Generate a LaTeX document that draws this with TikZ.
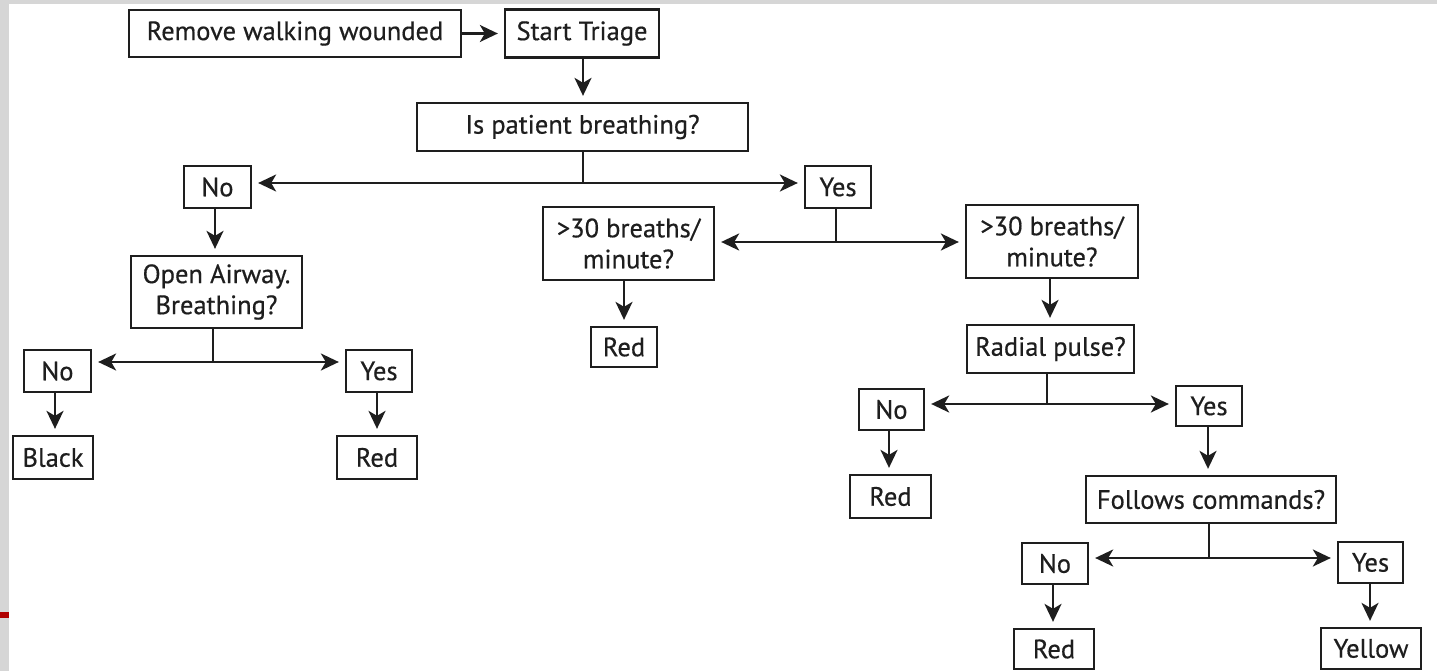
\documentclass[tikz,border=0pt]{standalone}
\usepackage{fontspec}
\setmainfont{PT Sans}
\newfontfamily\boxfont{PT Sans}[FakeBold=0.5]
\usetikzlibrary{arrows.meta}
\definecolor{ink}{HTML}{1E1E1E}
\definecolor{edge}{HTML}{D6D6D6}
\definecolor{slidered}{HTML}{B00000}
\begin{document}
\begin{tikzpicture}[x=1pt,y=-1pt,
  box/.style={draw=ink,line width=2.3pt,inner sep=0pt,align=center,text=ink,
    font=\boxfont\fontsize{26.5}{31}\selectfont},
  arr/.style={draw=ink,line width=2.3pt,shorten >=6pt,-{Stealth[length=18pt,width=17pt,inset=5pt]}},
  ln/.style={draw=ink,line width=2.3pt}]
\fill[edge] (0,0) rectangle (1437,671);
\fill[white] (9,4) rectangle (1437,671);
\fill[slidered] (0,612) rectangle (9,618);
\useasboundingbox (0,0) rectangle (1437,671);
% nodes
\node[box,minimum width=332pt,minimum height=47pt] (rw) at (295,33.5) {Remove walking wounded};
\node[box,minimum width=154pt,minimum height=48pt] (st) at (582,33.5) {Start Triage};
\node[box,minimum width=331pt,minimum height=48pt] (ipb) at (582.5,127) {Is patient breathing?};
\node[box,minimum width=67pt,minimum height=42pt] (no1) at (217.5,187) {No};
\node[box,minimum width=66pt,minimum height=42pt] (yes1) at (838,187) {Yes};
\node[box,minimum width=171pt,minimum height=72pt] (oa) at (216.5,292) {Open Airway.\\Breathing?};
\node[box,minimum width=67pt,minimum height=42pt] (no2) at (57.5,371) {No};
\node[box,minimum width=66pt,minimum height=42pt] (yes2) at (379,371) {Yes};
\node[box,minimum width=80pt,minimum height=43pt] (black) at (53,457.5) {Black};
\node[box,minimum width=80pt,minimum height=43pt] (red2) at (377,457.5) {Red};
\node[box,minimum width=171pt,minimum height=73pt] (brl) at (628.5,243.5) {>30 breaths/\\minute?};
\node[box,minimum width=172pt,minimum height=73pt] (brr) at (1052,241.5) {>30 breaths/\\minute?};
\node[box,minimum width=66pt,minimum height=40pt] (red1) at (624,347) {Red};
\node[box,minimum width=167pt,minimum height=48pt] (rp) at (1050.5,349) {Radial pulse?};
\node[box,minimum width=65pt,minimum height=41pt] (no3) at (891.5,409.5) {No};
\node[box,minimum width=66pt,minimum height=40pt] (yes3) at (1209,406) {Yes};
\node[box,minimum width=81pt,minimum height=43pt] (red3) at (890.5,496.5) {Red};
\node[box,minimum width=250pt,minimum height=47pt] (fc) at (1211,499.5) {Follows commands?};
\node[box,minimum width=66pt,minimum height=41pt] (no4) at (1055,563.5) {No};
\node[box,minimum width=65pt,minimum height=41pt] (yes4) at (1370.5,562.5) {Yes};
\node[box,minimum width=80pt,minimum height=40pt] (red4) at (1054,649) {Red};
\node[box,minimum width=100pt,minimum height=41pt] (yellow) at (1371,648.5) {Yellow};
% junction coordinates
\coordinate (j1) at (583,183);
\coordinate (j2) at (213,362);
\coordinate (j3) at (836,242);
\coordinate (j4) at (1047,404);
\coordinate (j5) at (1209,558);
% connectors
\draw[arr] (rw.east) -- (st.west);
\draw[arr] (st.south -| j1) -- (ipb.north -| j1);
\draw[ln] (ipb.south -| j1) -- (j1);
\draw[arr] (j1) -- (no1.east |- j1);
\draw[arr] (j1) -- (yes1.west |- j1);
\draw[arr] (no1.south -| 215,0) -- (oa.north -| 215,0);
\draw[ln] (oa.south -| j2) -- (j2);
\draw[arr] (j2) -- (no2.east |- j2);
\draw[arr] (j2) -- (yes2.west |- j2);
\draw[arr] (no2.south -| 55,0) -- (black.north -| 55,0);
\draw[arr] (yes2.south -| 377,0) -- (red2.north -| 377,0);
\draw[ln] (yes1.south -| j3) -- (j3);
\draw[arr] (j3) -- (brl.east |- j3);
\draw[arr] (j3) -- (brr.west |- j3);
\draw[arr] (brl.south -| red1) -- (red1.north);
\draw[arr] (brr.south -| 1050,0) -- (rp.north -| 1050,0);
\draw[ln] (rp.south -| j4) -- (j4);
\draw[arr] (j4) -- (no3.east |- j4);
\draw[arr] (j4) -- (yes3.west |- j4);
\draw[arr] (no3.south -| 889,0) -- (red3.north -| 889,0);
\draw[arr] (yes3.south -| 1208,0) -- (fc.north -| 1208,0);
\draw[ln] (fc.south -| j5) -- (j5);
\draw[arr] (j5) -- (no4.east |- j5);
\draw[arr] (j5) -- (yes4.west |- j5);
\draw[arr] (no4.south -| 1053,0) -- (red4.north -| 1053,0);
\draw[arr] (yes4.south -| 1370,0) -- (yellow.north -| 1370,0);
\end{tikzpicture}
\end{document}
